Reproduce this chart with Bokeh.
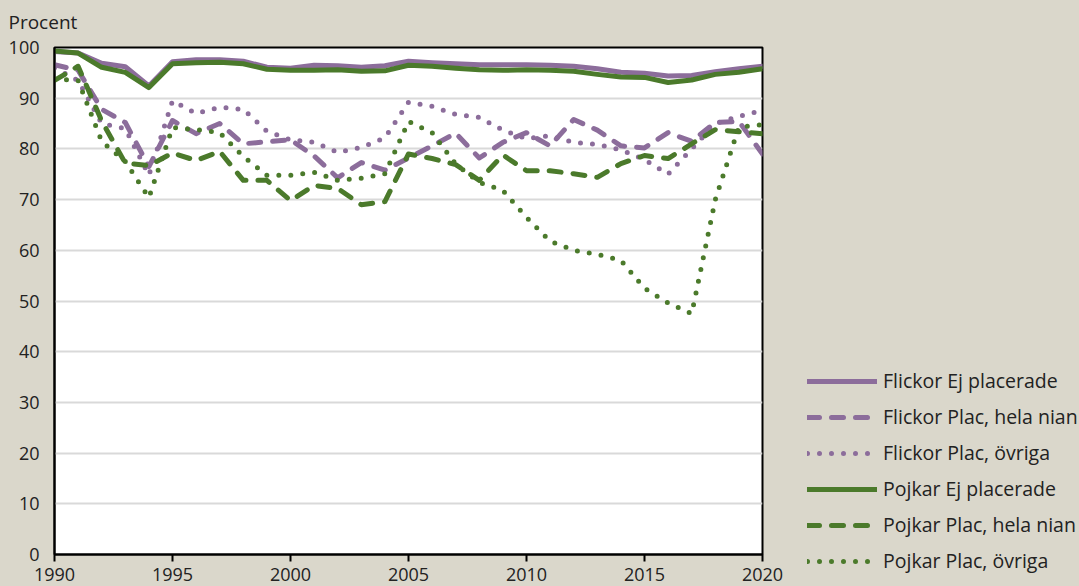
from bokeh.plotting import figure
from bokeh.models import Range1d, FixedTicker, Legend, LegendItem, Label
from bokeh.layouts import column, row
from bokeh.embed import file_html
from bokeh.resources import INLINE

years = list(range(1990, 2021))

flickor_ej = [99.2, 98.9, 96.9, 96.2, 92.4, 97.2, 97.6, 97.6, 97.3, 96.1, 95.9,
              96.5, 96.4, 96.1, 96.4, 97.3, 97.0, 96.8, 96.6, 96.6, 96.6,
              96.5, 96.3, 95.8, 95.1, 94.9, 94.4, 94.5, 95.2, 95.8, 96.3]
flickor_hela = [96.6, 95.5, 87.8, 85.2, 76.5, 85.6, 83.0, 85.0, 81.0, 81.4, 81.8,
                78.6, 74.3, 77.3, 75.8, 78.2, 80.6, 83.1, 78.2, 81.3, 83.2,
                80.6, 85.8, 83.7, 80.6, 80.2, 83.2, 81.5, 85.2, 85.4, 79.0]
flickor_ovr = [96.0, 93.5, 85.0, 84.0, 74.8, 89.5, 87.0, 88.2, 87.8, 83.5, 81.8,
               81.3, 79.3, 80.3, 82.2, 89.2, 88.4, 86.8, 86.2, 83.7, 82.0,
               82.6, 81.3, 80.9, 79.8, 77.9, 75.0, 80.0, 85.0, 86.4, 87.6]
pojkar_ej = [99.3, 98.9, 96.1, 95.1, 92.1, 96.8, 97.0, 97.1, 96.8, 95.7, 95.5,
             95.5, 95.6, 95.3, 95.4, 96.5, 96.3, 95.9, 95.6, 95.5, 95.6,
             95.5, 95.3, 94.7, 94.2, 94.1, 93.1, 93.6, 94.7, 95.1, 95.8]
pojkar_hela = [93.5, 96.3, 85.5, 77.2, 76.7, 79.2, 77.7, 79.5, 73.8, 73.8, 69.8,
               72.8, 72.2, 69.0, 69.6, 79.0, 78.1, 76.9, 73.8, 78.8, 75.7,
               75.7, 75.1, 74.4, 77.1, 78.7, 78.1, 81.0, 83.8, 83.4, 83.0]
pojkar_ovr = [93.8, 93.5, 81.5, 77.5, 70.4, 84.2, 83.8, 83.2, 78.5, 74.8, 74.8,
              75.4, 73.8, 74.2, 75.1, 85.4, 83.2, 77.0, 73.4, 71.8, 66.5,
              61.8, 60.0, 59.2, 58.0, 52.5, 49.6, 47.5, 70.0, 84.3, 84.8]

labels = ["Flickor Ej placerade", "Flickor Plac, hela nian", "Flickor Plac, övriga",
          "Pojkar Ej placerade", "Pojkar Plac, hela nian", "Pojkar Plac, övriga"]
x_ticks = [1990, 1995, 2000, 2005, 2010, 2015, 2020]
y_ticks = [0, 10, 20, 30, 40, 50, 60, 70, 80, 90, 100]
y_title = "Procent"

FONT = "Open Sans"
BG = "#DAD7CB"
TXT = "#222222"
PURPLE = "#8C6D9B"
GREEN = "#4B7A2B"

W, H = 1079, 586
TOP_H = 30
MAIN_W = 790

# --- top strip (full width) with the y unit title ---
top = figure(width=W, height=TOP_H, x_range=Range1d(0, W), y_range=Range1d(0, TOP_H),
             output_backend="svg", toolbar_location=None,
             x_axis_location=None, y_axis_location=None, min_border=0,
             background_fill_color=BG, border_fill_color=BG, outline_line_color=None)
top.grid.visible = False
top.add_layout(Label(x=8, y=9, text=y_title, text_font=FONT, text_font_size="19px",
                     text_color=TXT, text_baseline="alphabetic"))

# --- main chart ---
p = figure(width=MAIN_W, height=H - TOP_H, x_range=Range1d(1990, 2020), y_range=Range1d(0, 100),
           output_backend="svg", toolbar_location=None,
           min_border_left=54, min_border_right=28, min_border_top=17, min_border_bottom=32,
           background_fill_color="white", border_fill_color=BG,
           outline_line_color="black", outline_line_width=2)

p.xaxis.ticker = FixedTicker(ticks=x_ticks)
p.yaxis.ticker = FixedTicker(ticks=y_ticks)
for ax in (p.xaxis, p.yaxis):
    ax.axis_line_color = "black"
    ax.axis_line_width = 2
    ax.major_label_text_font = FONT
    ax.major_label_text_font_size = "18px"
    ax.major_label_text_color = TXT
    ax.minor_tick_line_color = None
p.xaxis.major_tick_out = 7
p.xaxis.major_tick_in = 0
p.xaxis.major_tick_line_width = 2
p.xaxis.major_tick_line_color = "black"
p.xaxis.major_label_standoff = 6
p.yaxis.major_tick_out = 0
p.yaxis.major_tick_in = 0
p.yaxis.major_tick_line_color = None
p.yaxis.major_label_standoff = 15

p.xgrid.grid_line_color = None
p.ygrid.grid_line_color = "#D9D9D9"
p.ygrid.grid_line_width = 2

series = [flickor_ej, flickor_hela, flickor_ovr, pojkar_ej, pojkar_hela, pojkar_ovr]
colors = [PURPLE, PURPLE, PURPLE, GREEN, GREEN, GREEN]
dashes = ["solid", "12 12", "0 12", "solid", "12 12", "0 12"]

for vals, col, dash, lab in zip(series, colors, dashes, labels):
    p.line(years, vals, line_color=col, line_width=5, line_dash=dash,
           line_cap="round", line_join="round", name=lab)

# --- legend panel (keys styled like the series) ---
leg = figure(width=W - MAIN_W, height=H - TOP_H, x_range=Range1d(0, 1), y_range=Range1d(0, 1),
             output_backend="svg", toolbar_location=None,
             x_axis_location=None, y_axis_location=None, min_border=0,
             background_fill_color=BG, border_fill_color=BG, outline_line_color=None)
leg.grid.visible = False
items = []
for vals, col, dash, lab in zip(series, colors, dashes, labels):
    # a single point lies outside this panel's view and draws no line; it only styles the key
    r = leg.line(years[:1], vals[:1], line_color=col, line_width=5, line_dash=dash,
                 line_cap="round", line_join="round")
    items.append(LegendItem(label=lab, renderers=[r]))

legend = Legend(items=items, location=(17, 12), glyph_width=70, glyph_height=20,
                label_height=20, spacing=9, padding=0, margin=0, label_standoff=6,
                background_fill_alpha=0, border_line_alpha=0,
                label_text_font=FONT, label_text_font_size="19.5px", label_text_color=TXT)
leg.add_layout(legend, "center")

layout = column(top, row(column(p, spacing=0), leg, spacing=0), spacing=0)

html = file_html(layout, INLINE)
html = html.replace("</head>", "<style>body{background-color:%s;}</style></head>" % BG, 1)
open("out.html", "w").write(html)
